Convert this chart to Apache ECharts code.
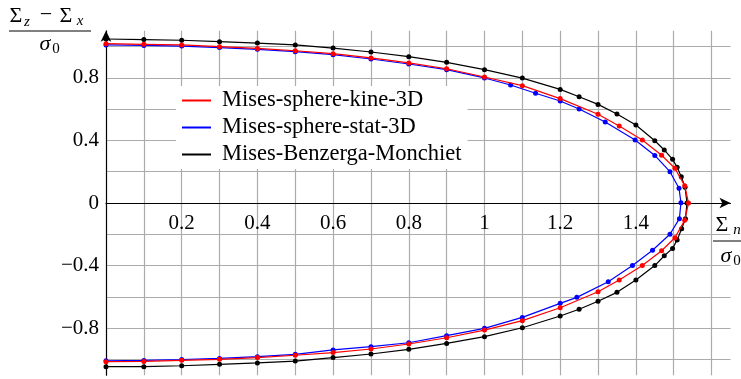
<!DOCTYPE html>
<html>
<head>
<meta charset="utf-8">
<script src="https://cdn.jsdelivr.net/npm/echarts@6/dist/echarts.min.js"></script>
<style>
html, body { margin: 0; padding: 0; background: #fff; }
#chart { width: 741px; height: 379px; }
</style>
</head>
<body>
<div id="chart"></div>
<script>
// Mises-sphere-kine-3D (red)
const kineX = [0, 0.1, 0.2, 0.3, 0.4, 0.5, 0.6, 0.7, 0.8, 0.9, 1.0, 1.1, 1.2, 1.3, 1.356, 1.417, 1.468, 1.503, 1.529, 1.539,
  1.529, 1.503, 1.468, 1.417, 1.356, 1.3, 1.2, 1.1, 1.0, 0.9, 0.8, 0.7, 0.6, 0.5, 0.4, 0.3, 0.2, 0.1, 0]
const kineY = [1.018, 1.014, 1.010, 0.999, 0.988, 0.973, 0.954, 0.927, 0.895, 0.858, 0.805, 0.750, 0.667, 0.567, 0.492, 0.402, 0.305, 0.222, 0.111, 0.0,
  -0.111, -0.222, -0.305, -0.400, -0.492, -0.567, -0.669, -0.752, -0.812, -0.861, -0.901, -0.933, -0.956, -0.973, -0.988, -0.999, -1.005, -1.012, -1.014]

// Mises-sphere-stat-3D (blue)
const statX = [0, 0.1, 0.2, 0.3, 0.4, 0.5, 0.6, 0.7, 0.8, 0.9, 1.0, 1.069, 1.135, 1.2, 1.25, 1.319, 1.398, 1.450, 1.490, 1.514, 1.519,
  1.515, 1.490, 1.444, 1.391, 1.327, 1.244, 1.2, 1.1, 1.0, 0.9, 0.8, 0.7, 0.6, 0.5, 0.4, 0.3, 0.2, 0.1, 0]
const statY = [1.010, 1.007, 1.003, 0.993, 0.982, 0.967, 0.948, 0.920, 0.888, 0.852, 0.799, 0.754, 0.701, 0.652, 0.601, 0.518, 0.403, 0.304, 0.200, 0.094, 0.002,
  -0.100, -0.200, -0.302, -0.399, -0.503, -0.603, -0.641, -0.731, -0.801, -0.848, -0.893, -0.918, -0.939, -0.967, -0.982, -0.993, -1.000, -1.006, -1.008]

// Mises-Benzerga-Monchiet (black)
const bmX = [0, 0.1, 0.2, 0.3, 0.4, 0.5, 0.6, 0.7, 0.8, 0.9, 1.0, 1.1, 1.2, 1.25, 1.3, 1.35, 1.4, 1.45, 1.475, 1.497, 1.509, 1.520, 1.530, 1.535,
  1.531, 1.521, 1.509, 1.497, 1.475, 1.45, 1.4, 1.35, 1.3, 1.25, 1.2, 1.1, 1.0, 0.9, 0.8, 0.7, 0.6, 0.5, 0.4, 0.3, 0.2, 0.1, 0]
const bmY = [1.048, 1.044, 1.040, 1.031, 1.022, 1.010, 0.990, 0.965, 0.935, 0.899, 0.852, 0.798, 0.726, 0.679, 0.630, 0.569, 0.498, 0.398, 0.339, 0.279, 0.228, 0.168, 0.100, 0.0,
  -0.100, -0.164, -0.236, -0.290, -0.337, -0.400, -0.492, -0.571, -0.628, -0.679, -0.722, -0.797, -0.854, -0.897, -0.935, -0.965, -0.988, -1.010, -1.022, -1.031, -1.040, -1.046, -1.046]

const xTickLabels = [0.2, 0.4, 0.6, 0.8, 1, 1.2, 1.4]
const yTickLabels = [-0.8, -0.4, 0, 0.4, 0.8]

const FONT = '"Liberation Serif", "DejaVu Serif", serif'
const GRID_COLOR = '#ababab'

function pairs(xs, ys) {
  return xs.map((x, i) => [x, ys[i]])
}
function tickFormatter(list) {
  return function (v) {
    const hit = list.find(t => Math.abs(t - v) < 1e-6)
    if (hit === undefined) return ''
    return String(hit).replace('-', '\u2212')
  }
}
function label(text, x, y, size, italic) {
  return {
    type: 'text', x: x, y: y, z: 10,
    style: {
      text: text, fill: '#000', fontSize: size, fontFamily: FONT,
      fontStyle: italic ? 'italic' : 'normal',
      align: 'center', verticalAlign: 'middle',
      textAlign: 'center', textVerticalAlign: 'middle'
    }
  }
}

const chart = echarts.init(document.getElementById('chart'))
chart.setOption({
  animation: false,
  backgroundColor: '#fff',
  textStyle: { fontFamily: FONT },
  grid: [
    // main plot area, y from -1.1 to 1.1
    { left: 106, right: 10.5, top: 30.85, bottom: 3.85, containLabel: false, outerBoundsMode: 'none' },
    // horizontal grid lines, y from -1 to 1
    { left: 106, right: 10.5, top: 46.5, bottom: 19.5, containLabel: false, outerBoundsMode: 'none' },
    // upper half, its bottom edge is y = 0: carries the x axis line and labels
    { left: 106, right: 10.5, top: 30.85, bottom: 176, containLabel: false, outerBoundsMode: 'none' }
  ],
  xAxis: [{
    type: 'value', gridIndex: 0, min: 0, max: 1.65, interval: 0.1, z: 1,
    axisLine: { show: false }, axisTick: { show: false }, axisLabel: { show: false },
    splitLine: { show: true, showMinLine: false, showMaxLine: false, lineStyle: { color: GRID_COLOR, width: 1.2 } }
  }, {
    type: 'value', gridIndex: 1, min: 0, max: 1.65, show: false
  }, {
    type: 'value', gridIndex: 2, min: 0, max: 1.65, interval: 0.1, position: 'bottom', z: 2,
    axisLine: { onZero: false, symbol: ['none', 'arrow'], symbolSize: [8, 11], lineStyle: { color: '#000', width: 1.2 } },
    axisTick: { show: false },
    axisLabel: { formatter: tickFormatter(xTickLabels), color: '#000', fontSize: 21, fontFamily: FONT, margin: 10 },
    splitLine: { show: false }
  }],
  yAxis: [{
    type: 'value', gridIndex: 0, min: -1.1, max: 1.1, interval: 0.1, z: 2,
    axisLine: { onZero: false, symbol: ['none', 'arrow'], symbolSize: [8, 11], lineStyle: { color: '#000', width: 1.2 } },
    axisTick: { show: false },
    axisLabel: { formatter: tickFormatter(yTickLabels), color: '#000', fontSize: 21, fontFamily: FONT, margin: 7 },
    splitLine: { show: false }
  }, {
    type: 'value', gridIndex: 1, min: -1, max: 1, interval: 0.2, z: 0,
    axisLine: { show: false }, axisTick: { show: false }, axisLabel: { show: false },
    splitLine: { show: true, lineStyle: { color: GRID_COLOR, width: 1.2 } }
  }, {
    type: 'value', gridIndex: 2, min: 0, max: 1.1, show: false
  }],
  legend: {
    orient: 'vertical', left: 176, top: 86, z: 5,
    backgroundColor: '#fff', padding: [3, 6, 3, 6],
    itemWidth: 29, itemHeight: 2, itemGap: 4, icon: 'rect',
    textStyle: { fontSize: 22.5, fontFamily: FONT, color: '#000', padding: [0, 0, 0, 6], lineHeight: 21 },
    data: ['Mises-sphere-kine-3D', 'Mises-sphere-stat-3D', 'Mises-Benzerga-Monchiet']
  },
  series: [{
    name: 'Mises-sphere-kine-3D', type: 'line', xAxisIndex: 0, yAxisIndex: 0,
    data: pairs(kineX, kineY), symbol: 'circle', symbolSize: 5, z: 4,
    lineStyle: { color: '#ff0000', width: 1.2 }, itemStyle: { color: '#ff0000' }
  }, {
    name: 'Mises-sphere-stat-3D', type: 'line', xAxisIndex: 0, yAxisIndex: 0,
    data: pairs(statX, statY), symbol: 'circle', symbolSize: 5, z: 3,
    lineStyle: { color: '#0000ff', width: 1.2 }, itemStyle: { color: '#0000ff' }
  }, {
    name: 'Mises-Benzerga-Monchiet', type: 'line', xAxisIndex: 0, yAxisIndex: 0,
    data: pairs(bmX, bmY), symbol: 'circle', symbolSize: 5, z: 3,
    lineStyle: { color: '#000000', width: 1.2 }, itemStyle: { color: '#000000' }
  }],
  graphic: [
    // y axis title: (Sigma_z - Sigma_x) / sigma_0
    label('\u03A3', 16, 16, 22, false),
    label('z', 27, 22, 15, true),
    label('\u2212', 46, 15, 22, false),
    label('\u03A3', 66, 16, 22, false),
    label('x', 80, 21, 15, true),
    { type: 'line', z: 10, shape: { x1: 9, y1: 31, x2: 91, y2: 31 }, style: { stroke: '#000', lineWidth: 1 } },
    label('\u03C3', 45, 44, 22, true),
    label('0', 56, 49, 15, false),
    // x axis title: Sigma_n / sigma_0
    label('\u03A3', 722, 225, 22, false),
    label('n', 737, 230, 15, true),
    { type: 'line', z: 10, shape: { x1: 713, y1: 241, x2: 741, y2: 241 }, style: { stroke: '#000', lineWidth: 1 } },
    label('\u03C3', 726, 256, 22, true),
    label('0', 737, 261, 15, false)
  ]
})
</script>
</body>
</html>
